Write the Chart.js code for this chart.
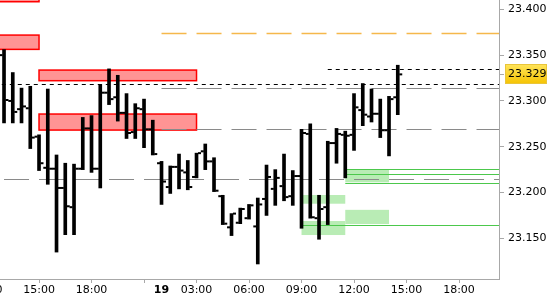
<!DOCTYPE html>
<html>
<head>
<meta charset="utf-8">
<script src="https://cdn.jsdelivr.net/npm/chart.js@4.4.1/dist/chart.umd.min.js"></script>
<style>
  html, body { margin: 0; padding: 0; background: #fff; }
  #wrap { width: 550px; height: 300px; }
</style>
</head>
<body>
<div id="wrap"><canvas id="priceChart"></canvas></div>
<script>
// 30 minute bars, x value = bar number (0 = 13:00)
var opens  = [23.350, 23.300, 23.291, 23.292, 23.261, 23.227, 23.226, 23.205, 23.184, 23.226,
              23.270, 23.226, 23.309, 23.304, 23.287, 23.266, 23.291, 23.269, 23.232, 23.206,
              23.228, 23.222, 23.217, 23.245, 23.234, 23.196, 23.162, 23.167, 23.172, 23.163,
              23.193, 23.204, 23.207, 23.196, 23.218, 23.264, 23.172, 23.184, 23.254, 23.263,
              23.263, 23.290, 23.283, 23.286, 23.268, 23.304];
var highs  = [23.356, 23.331, 23.314, 23.316, 23.263, 23.313, 23.241, 23.232, 23.231, 23.282,
              23.284, 23.318, 23.335, 23.328, 23.308, 23.297, 23.302, 23.279, 23.234, 23.229,
              23.242, 23.235, 23.243, 23.253, 23.238, 23.197, 23.177, 23.183, 23.187, 23.194,
              23.230, 23.225, 23.242, 23.224, 23.269, 23.275, 23.197, 23.256, 23.270, 23.267,
              23.308, 23.319, 23.313, 23.302, 23.305, 23.339];
var lows   = [23.276, 23.276, 23.276, 23.248, 23.224, 23.209, 23.135, 23.154, 23.154, 23.225,
              23.222, 23.205, 23.296, 23.278, 23.259, 23.259, 23.249, 23.241, 23.187, 23.199,
              23.204, 23.203, 23.216, 23.225, 23.201, 23.165, 23.153, 23.166, 23.171, 23.122,
              23.175, 23.186, 23.191, 23.186, 23.161, 23.172, 23.149, 23.165, 23.232, 23.216,
              23.246, 23.273, 23.277, 23.260, 23.240, 23.285];
var closes = [23.301, 23.288, 23.294, 23.260, 23.232, 23.226, 23.205, 23.185, 23.226, 23.270,
              23.226, 23.309, 23.302, 23.287, 23.265, 23.292, 23.269, 23.242, 23.212, 23.228,
              23.224, 23.206, 23.243, 23.234, 23.202, 23.166, 23.177, 23.182, 23.186, 23.187,
              23.217, 23.216, 23.195, 23.218, 23.265, 23.173, 23.182, 23.254, 23.264, 23.262,
              23.293, 23.285, 23.286, 23.268, 23.302, 23.329];

var timeTicks  = [-2, 4, 10, 16, 18, 22, 28, 34, 40, 46, 52];
var timeLabels = ["12:00", "15:00", "18:00", "", "19", "03:00", "06:00", "09:00", "12:00", "15:00", "18:00"];
var dayTick = 18;

var priceTicks = [23.15, 23.20, 23.25, 23.30, 23.35, 23.40];

// zones: [from bar, to bar, low, high]
var supplyZones = [
  [-3, 4, 23.4083, 23.4300],
  [-3, 4, 23.3563, 23.3719],
  [4, 22, 23.3221, 23.3337],
  [4, 22, 23.2682, 23.2857]
];
var demandZones = [
  [34, 39, 23.1878, 23.1973],
  [34, 39, 23.1536, 23.1689],
  [39, 44, 23.2111, 23.2253],
  [39, 44, 23.1656, 23.1811]
];

// levels: [from bar, price]
var orangeLevels = [[18, 23.3738]];
var grayLevels   = [[18, 23.3138], [18, 23.2690], [-4, 23.2144]];
var blackLevels  = [[-3, 23.3181], [37, 23.3345]];
var greenLevels  = [[39, 23.2253], [39, 23.2199], [39, 23.2100], [34, 23.1642]];

var TICK_OFFSET = 0.34;
var FONT = "DejaVu Sans";
var AXIS_GRAY = "#a8a8a8";

var ranges = highs.map(function (h, i) { return { x: i, y: [lows[i], h] }; });
var openPts = opens.map(function (v, i) { return { x: i - TICK_OFFSET, y: v }; });
var closePts = closes.map(function (v, i) { return { x: i + TICK_OFFSET, y: v }; });

function crisp(v) {
  return Math.round(v) + 0.5;
}

var zonesPlugin = {
  id: "zones",
  beforeDatasetsDraw: function (chart) {
    var ctx = chart.ctx;
    var xs = chart.scales.x;
    var ys = chart.scales.y;
    var a = chart.chartArea;

    ctx.save();
    ctx.beginPath();
    ctx.rect(a.left, a.top, a.right - a.left, a.bottom - a.top);
    ctx.clip();

    demandZones.forEach(function (z) {
      var x1 = xs.getPixelForValue(z[0]);
      var x2 = xs.getPixelForValue(z[1]);
      var y1 = ys.getPixelForValue(z[3]);
      var y2 = ys.getPixelForValue(z[2]);
      ctx.fillStyle = "#b9ecb5";
      ctx.fillRect(x1, y1, x2 - x1, y2 - y1);
    });

    supplyZones.forEach(function (z) {
      var x1 = xs.getPixelForValue(z[0]);
      var x2 = xs.getPixelForValue(z[1]);
      var y1 = ys.getPixelForValue(z[3]);
      var y2 = ys.getPixelForValue(z[2]);
      ctx.fillStyle = "#ff9494";
      ctx.fillRect(x1, y1, x2 - x1, y2 - y1);
      ctx.strokeStyle = "#ff0000";
      ctx.lineWidth = 1.5;
      ctx.strokeRect(x1, y1, x2 - x1, y2 - y1);
    });

    function drawLevels(list, color, width, dash) {
      list.forEach(function (l) {
        var x1 = xs.getPixelForValue(l[0]);
        var y = crisp(ys.getPixelForValue(l[1]));
        ctx.beginPath();
        ctx.setLineDash(dash);
        ctx.strokeStyle = color;
        ctx.lineWidth = width;
        ctx.moveTo(x1, y);
        ctx.lineTo(a.right, y);
        ctx.stroke();
      });
    }

    drawLevels(orangeLevels, "#f5b84b", 1.3, [25, 10]);
    drawLevels(grayLevels, "#8a8a8a", 1.2, [25, 10]);
    drawLevels(blackLevels, "#000000", 1, [4, 4]);
    drawLevels(greenLevels, "#4cc84c", 1.2, []);

    ctx.restore();
  },
  afterDraw: function (chart) {
    // last price box on the axis
    var ctx = chart.ctx;
    var ys = chart.scales.y;
    var last = closes[closes.length - 1];
    var y = ys.getPixelForValue(last);
    var left = ys.left + 6;
    var right = chart.width - 3;

    ctx.save();
    ctx.strokeStyle = AXIS_GRAY;
    ctx.lineWidth = 1;
    ctx.beginPath();
    ctx.moveTo(ys.left, crisp(y));
    ctx.lineTo(ys.left + 5, crisp(y));
    ctx.stroke();

    var grad = ctx.createLinearGradient(0, y - 10, 0, y + 10);
    grad.addColorStop(0, "#ffe45a");
    grad.addColorStop(1, "#f5c200");
    ctx.fillStyle = grad;
    ctx.fillRect(left, Math.round(y) - 10, right - left, 20);
    ctx.strokeStyle = "#e9c53a";
    ctx.strokeRect(left + 0.5, Math.round(y) - 9.5, right - left - 1, 19);

    ctx.fillStyle = "#000";
    ctx.font = "11px " + FONT;
    ctx.textBaseline = "middle";
    ctx.textAlign = "left";
    ctx.fillText(last.toFixed(3), ys.left + 9, y);
    ctx.restore();
  }
};

var priceCanvas = document.getElementById("priceChart");

new Chart(priceCanvas, {
  type: "bar",
  data: {
    datasets: [
      {
        type: "bar",
        data: ranges,
        backgroundColor: "#000",
        borderWidth: 0,
        barThickness: 3,
      },
      {
        type: "line",
        data: openPts,
        showLine: false,
        pointStyle: "line",
        pointRadius: 1.5,
        pointHoverRadius: 0,
        pointBorderWidth: 2,
        pointBorderColor: "#000",
        pointBackgroundColor: "#000",
      },
      {
        type: "line",
        data: closePts,
        showLine: false,
        pointStyle: "line",
        pointRadius: 1.5,
        pointHoverRadius: 0,
        pointBorderWidth: 2,
        pointBorderColor: "#000",
        pointBackgroundColor: "#000",
      },
    ],
  },
  options: {
    responsive: true,
    maintainAspectRatio: false,
    animation: false,
    events: [],
    layout: { padding: 0, autoPadding: false },
    plugins: {
      legend: { display: false },
      tooltip: { enabled: false },
    },
    scales: {
      x: {
        type: "linear",
        min: -0.46,
        max: 56.57,
        offset: false,
        grid: {
          offset: false,
          drawOnChartArea: false,
          tickLength: 4,
          color: AXIS_GRAY,
          tickColor: function (c) {
            return c.tick && c.tick.value === dayTick ? "rgba(0,0,0,0)" : AXIS_GRAY;
          },
        },
        border: { color: AXIS_GRAY },
        afterBuildTicks: function (scale) {
          scale.ticks = timeTicks.map(function (v) { return { value: v }; });
        },
        afterFit: function (scale) {
          scale.height = 21;
          scale.paddingLeft = 0;
          scale.paddingRight = 0;
        },
        ticks: {
          autoSkip: false,
          maxRotation: 0,
          padding: 1,
          color: "#000",
          font: function (c) {
            var bold = c.tick && c.tick.value === dayTick;
            return { family: FONT, size: 11, weight: bold ? "bold" : "normal" };
          },
          callback: function (value, index) {
            return timeLabels[index];
          },
        },
      },
      y: {
        position: "right",
        min: 23.1056,
        max: 23.4102,
        beginAtZero: false,
        grid: {
          drawOnChartArea: false,
          tickLength: 5,
          color: AXIS_GRAY,
        },
        border: { color: AXIS_GRAY },
        afterBuildTicks: function (scale) {
          scale.ticks = priceTicks.map(function (v) { return { value: v }; });
        },
        afterFit: function (scale) {
          scale.width = 51;
          scale.paddingTop = 0;
          scale.paddingBottom = 0;
        },
        ticks: {
          padding: 4,
          color: "#000",
          font: { family: FONT, size: 11 },
          callback: function (value) {
            return value.toFixed(3);
          },
        },
      },
    },
  },
  plugins: [zonesPlugin],
});
</script>
</body>
</html>
